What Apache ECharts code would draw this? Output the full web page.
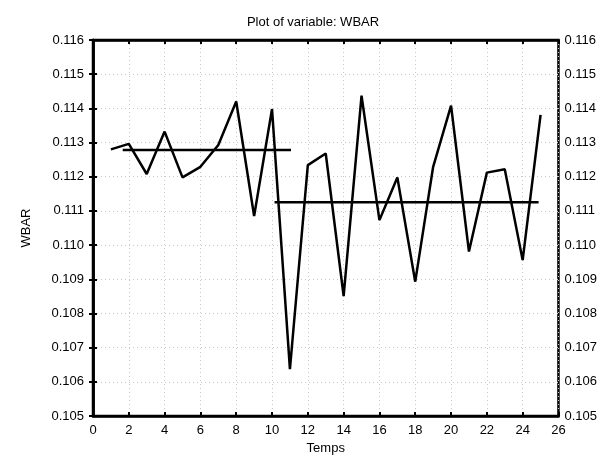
<!DOCTYPE html>
<html>
<head>
<meta charset="utf-8">
<script src="https://cdn.jsdelivr.net/npm/echarts@6/dist/echarts.min.js"></script>
<style>html,body{margin:0;padding:0;background:#fff}#c{width:600px;height:461px}</style>
</head>
<body>
<div id="c"></div>
<script>
const temps = [1,2,3,4,5,6,7,8,9,10,11,12,13,14,15,16,17,18,19,20,21,22,23,24,25];
const wbar = [0.11280,0.11296,0.11208,0.11332,0.11198,0.11229,0.11293,0.11420,0.11085,0.11398,
              0.10637,0.11234,0.11268,0.10851,0.11437,0.11073,0.11198,0.10893,0.11229,0.11408,
              0.10981,0.11212,0.11222,0.10956,0.11381];
const mean1X = [1.66, 11.06];
const mean1Y = 0.11278;
const mean2X = [10.14, 24.89];
const mean2Y = 0.11125;
const xTicks = [0,2,4,6,8,10,12,14,16,18,20,22,24,26];
const yTicks = [0.105,0.106,0.107,0.108,0.109,0.110,0.111,0.112,0.113,0.114,0.115,0.116];

const font = 'Liberation Sans, Arial, sans-serif';
const chart = echarts.init(document.getElementById('c'), null, {renderer:'canvas'});
const tickStyle = {show:true, inside:true, length:4, lineStyle:{color:'#000', width:2}};
const split = {show:true, lineStyle:{color:'#c8c8c8', type:[1,3], width:1}};
const lbl = {fontFamily:font, fontSize:13, color:'#000'};
chart.setOption({
  animation:false,
  title:{text:'Plot of variable: WBAR', left:313, top:16, padding:0, textAlign:'center',
    textStyle:{fontFamily:font, fontSize:13, fontWeight:'normal', color:'#000'}},
  grid:{left:93, right:38, top:40, bottom:45, show:true, borderColor:'#000', borderWidth:2.5},
  xAxis:[{
    type:'value', min:xTicks[0], max:xTicks[xTicks.length-1], interval:2,
    name:'Temps', nameLocation:'middle', nameGap:25, nameTextStyle:lbl,
    axisLine:{show:true, lineStyle:{color:'#000', width:2.5}},
    axisTick:tickStyle, splitLine:split,
    axisLabel:Object.assign({margin:8}, lbl)
  },{
    type:'value', position:'top', min:0, max:26, interval:2,
    axisLine:{show:true, lineStyle:{color:'#000', width:2.5}},
    axisTick:tickStyle, axisLabel:{show:false}, splitLine:{show:false}
  }],
  yAxis:[{
    type:'value', min:yTicks[0], max:yTicks[yTicks.length-1], interval:0.001,
    name:'WBAR', nameLocation:'middle', nameGap:60, nameRotate:90, nameTextStyle:lbl,
    axisLine:{show:true, lineStyle:{color:'#000', width:2.5}},
    axisTick:tickStyle, splitLine:split,
    axisLabel:Object.assign({margin:9, formatter:v=>v.toFixed(3)}, lbl)
  },{
    type:'value', position:'right', min:0.105, max:0.116, interval:0.001,
    axisLine:{show:true, lineStyle:{color:'#000', width:2.5}},
    axisTick:tickStyle, splitLine:{show:false},
    axisLabel:Object.assign({margin:6, formatter:v=>v.toFixed(3)}, lbl)
  }],
  series:[
    {type:'line', data:temps.map((t,i)=>[t,wbar[i]]), showSymbol:false, symbol:'none',
     lineStyle:{color:'#000', width:2.5}},
    {type:'line', data:mean1X.map(x=>[x,mean1Y]), symbol:'none', lineStyle:{color:'#000', width:2.5}},
    {type:'line', data:mean2X.map(x=>[x,mean2Y]), symbol:'none', lineStyle:{color:'#000', width:2.5}}
  ]
});
</script>
</body>
</html>
